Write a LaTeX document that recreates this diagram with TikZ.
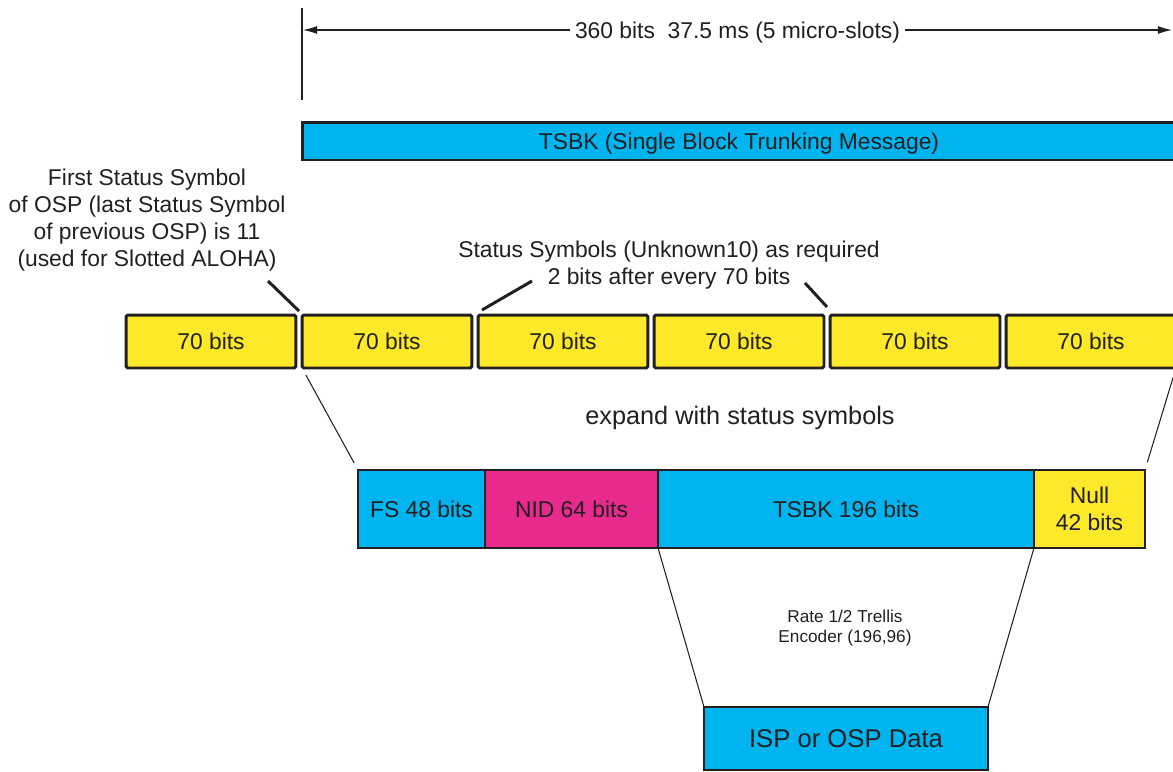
\documentclass[tikz,border=0pt]{standalone}
\usepackage{fontspec}
\setmainfont{Liberation Sans}
\usetikzlibrary{arrows.meta}
\definecolor{tsbkblue}{RGB}{0,181,239}
\definecolor{bityellow}{RGB}{252,233,42}
\definecolor{nidpink}{RGB}{232,41,141}
\definecolor{inkgray}{RGB}{35,31,32}
\tikzset{
    bitbox/.style={draw=inkgray,line width=1.7pt,rounded corners=1pt,fill=bityellow,
        minimum width=3.4cm,minimum height=1.06cm,inner sep=0pt,outer sep=0pt},
    fieldbox/.style={draw=inkgray,line width=0.85pt,minimum height=1.56cm,
        inner sep=0pt,outer sep=0pt,align=center},
    statusline/.style={draw=inkgray,line width=1.7pt},
    thinline/.style={draw=inkgray,line width=0.6pt},
}
\begin{document}
\begin{tikzpicture}[x=0.02cm,y=-0.02cm,text=inkgray,
        font=\fontsize{13pt}{15.5pt}\selectfont]
        \useasboundingbox (0,0) rectangle (1173,771);
        \clip (0,0) rectangle (1173,771);
        %% slot length
        \coordinate (tickT) at (302,8);
        \coordinate (tickB) at (302,100);
        \coordinate (slotL) at (303,30);
        \coordinate (slotR) at (1172,30);
        \draw[thinline] (tickT) -- (tickB);
        \draw[thinline,<->,>={Latex[length=8pt,width=4.5pt]}] (slotL) -- (slotR)
            node[pos=0.5,anchor=center,fill=white,inner xsep=3pt,text depth=0pt] (slotlabel) {360 bits\ \ 37.5 ms (5 micro-slots)};
        %% message bar
        \node[draw=inkgray,line width=1.7pt,fill=tsbkblue,minimum width=17.48cm,
            minimum height=0.76cm,inner sep=0pt,text depth=0pt] (msg) at (739,141) {TSBK (Single Block Trunking Message)};
        %% notes
        \node[align=center] (firstnote) at (147,220) {First Status Symbol\\of OSP (last Status Symbol\\of previous OSP) is 11\\(used for Slotted ALOHA)};
        \node[align=center] (statusnote) at (669,265) {Status Symbols (Unknown10) as required\\2 bits after every 70 bits};
        %% 70 bit blocks
        \node[bitbox] (b1) at (211,341.5) {70 bits};
        \node[bitbox] (b2) at (387,341.5) {70 bits};
        \node[bitbox] (b3) at (563,341.5) {70 bits};
        \node[bitbox] (b4) at (739,341.5) {70 bits};
        \node[bitbox] (b5) at (915,341.5) {70 bits};
        \node[bitbox] (b6) at (1091,341.5) {70 bits};
        %% status symbol pointers
        \coordinate (s1a) at (268,281);
        \coordinate (s1b) at (299,311);
        \coordinate (s2a) at (532,281);
        \coordinate (s2b) at (482,310);
        \coordinate (s3a) at (805,283);
        \coordinate (s3b) at (827,307);
        \draw[statusline] (s1a) -- (s1b);
        \draw[statusline] (s2a) -- (s2b);
        \draw[statusline] (s3a) -- (s3b);
        \node[font=\fontsize{14.4pt}{17pt}\selectfont] (expand) at (740,418) {expand with status symbols};
        %% expanded frame
        \node[fieldbox,fill=tsbkblue,minimum width=2.54cm] (fs) at (421.5,509) {FS 48 bits};
        \node[fieldbox,fill=nidpink,minimum width=3.46cm] (nid) at (571.5,509) {NID 64 bits};
        \node[fieldbox,fill=tsbkblue,minimum width=7.52cm] (tsbk) at (846,509) {TSBK 196 bits};
        \node[fieldbox,fill=bityellow,minimum width=2.22cm] (null) at (1089.5,509) {Null\\42 bits};
        \draw[thinline,shorten <=0.16cm,shorten >=0.16cm] (b2.south west) -- (fs.north west);
        \draw[thinline,shorten <=0.18cm,shorten >=0.16cm] (b6.south east) -- (null.north east);
        %% trellis coding
        \node[align=center,font=\fontsize{9.8pt}{11.5pt}\selectfont] (rate) at (845,628) {Rate 1/2 Trellis\\Encoder (196,96)};
        \node[fieldbox,fill=tsbkblue,minimum width=5.68cm,minimum height=1.26cm,
            font=\fontsize{14.6pt}{17pt}\selectfont] (isp) at (846,738.5) {ISP or OSP Data};
        \draw[thinline] (tsbk.south west) -- (isp.north west);
        \draw[thinline] (tsbk.south east) -- (isp.north east);
    \end{tikzpicture}
\end{document}
